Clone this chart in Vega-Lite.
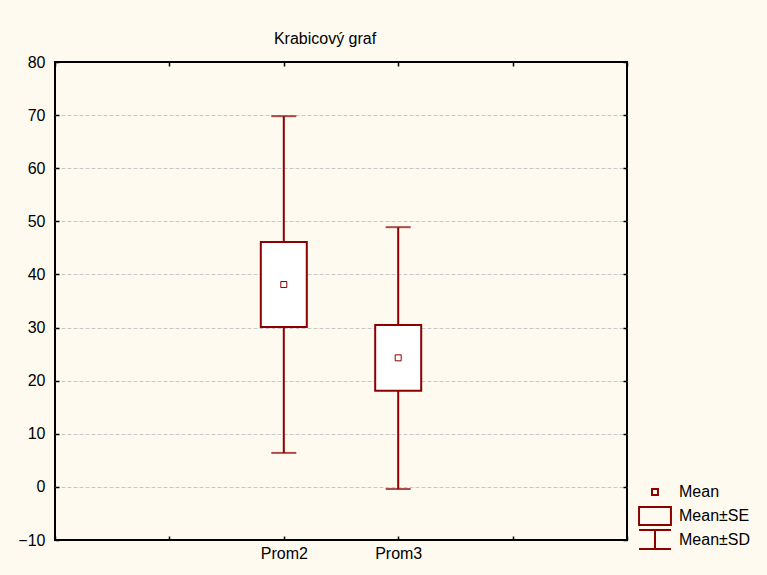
{
  "$schema": "https://vega.github.io/schema/vega-lite/v6.json",
  "autosize": {"type": "none"},
  "width": 572,
  "height": 478,
  "padding": {"left": 55, "top": 62, "right": 140, "bottom": 35},
  "background": "#FFFAF0",
  "config": {
    "font": "Liberation Sans",
    "view": {"fill": "#FFFFFF", "stroke": "#000000", "strokeWidth": 2},
    "axis": {"labelFont": "Liberation Sans", "labelFontSize": 16, "labelColor": "#000000", "tickColor": "#000000", "tickWidth": 1.5, "domain": false, "title": null},
    "legend": {"labelFont": "Liberation Sans", "labelFontSize": 16, "labelColor": "#000000", "title": null, "orient": "none", "padding": 0, "symbolSize": 484, "symbolOpacity": 1, "symbolStrokeColor": "#8B0000", "symbolFillColor": "transparent", "symbolStrokeWidth": 2, "labelOffset": 12}
  },
  "title": {"text": "Krabicový graf", "font": "Liberation Sans", "fontSize": 16, "fontWeight": "normal", "color": "#000000", "anchor": "middle", "frame": "group", "dx": -16, "offset": -6, "baseline": "alphabetic"},
  "datasets": {
    "stats": [
      {"var": "Prom2", "mean": 38.1, "seLo": 30.1, "seHi": 46.1, "sdLo": 6.4, "sdHi": 69.8},
      {"var": "Prom3", "mean": 24.3, "seLo": 18.1, "seHi": 30.5, "sdLo": -0.4, "sdHi": 48.9}
    ],
    "legendMean": [{"itemA": "Mean"}],
    "legendSE": [{"itemB": "Mean±SE"}],
    "legendSD": [{"itemC": "Mean±SD"}]
  },
  "layer": [
    {
      "data": {"name": "stats"},
      "mark": {"type": "rule", "color": "#8B0000", "strokeWidth": 2},
      "encoding": {
        "x": {"field": "var", "type": "nominal", "scale": {"type": "point", "domain": ["_1", "_2", "Prom2", "Prom3", "_4", "_5"], "padding": 0},
          "axis": {"orient": "bottom", "labelExpr": "datum.label == 'Prom2' || datum.label == 'Prom3' ? datum.label : ''", "tickSize": -4, "labelPadding": 9, "labelAngle": 0, "grid": false}},
        "y": {"field": "sdLo", "type": "quantitative", "scale": {"domain": [-10, 80], "nice": false, "zero": false},
          "axis": {"orient": "left", "values": [-10, 0, 10, 20, 30, 40, 50, 60, 70, 80], "tickSize": -4, "labelPadding": 14, "grid": true,
            "gridColor": {"condition": {"test": "datum.value == 80 || datum.value == -10", "value": "transparent"}, "value": "#C8C8C8"},
            "gridDash": [4, 2], "gridWidth": 1}},
        "y2": {"field": "sdHi"}
      }
    },
    {
      "data": {"name": "stats"},
      "mark": {"type": "tick", "color": "#8B0000", "thickness": 2, "size": 25, "orient": "horizontal"},
      "encoding": {
        "x": {"field": "var", "type": "nominal", "axis": {"orient": "top", "labels": false, "tickSize": -4, "grid": false}},
        "y": {"field": "sdHi", "type": "quantitative", "axis": {"orient": "right", "labels": false, "values": [-10, 0, 10, 20, 30, 40, 50, 60, 70, 80], "tickSize": -4, "grid": false}}
      }
    },
    {
      "data": {"name": "stats"},
      "mark": {"type": "tick", "color": "#8B0000", "thickness": 2, "size": 25, "orient": "horizontal"},
      "encoding": {
        "x": {"field": "var", "type": "nominal", "axis": null},
        "y": {"field": "sdLo", "type": "quantitative", "axis": null}
      }
    },
    {
      "data": {"name": "stats"},
      "mark": {"type": "bar", "fill": "#FFFFFF", "stroke": "#8B0000", "strokeWidth": 2, "size": 46},
      "encoding": {
        "x": {"field": "var", "type": "nominal", "axis": null},
        "y": {"field": "seLo", "type": "quantitative", "axis": null},
        "y2": {"field": "seHi"}
      }
    },
    {
      "data": {"name": "stats"},
      "mark": {"type": "point", "shape": "square", "filled": false, "color": "#8B0000", "strokeWidth": 1, "size": 36, "opacity": 1},
      "encoding": {
        "x": {"field": "var", "type": "nominal", "axis": null},
        "y": {"field": "mean", "type": "quantitative", "axis": null}
      }
    },
    {
      "data": {"name": "legendMean"},
      "mark": {"type": "point", "filled": false, "color": "#8B0000", "opacity": 0, "strokeWidth": 2},
      "encoding": {
        "shape": {"field": "itemA", "type": "nominal",
          "scale": {"domain": ["Mean"], "range": ["M-0.27,-0.27H0.27V0.27H-0.27Z"]},
          "legend": {"legendX": 588, "legendY": 418}}
      }
    },
    {
      "data": {"name": "legendSE"},
      "mark": {"type": "point", "filled": false, "color": "#8B0000", "opacity": 0, "strokeWidth": 2},
      "encoding": {
        "fill": {"field": "itemB", "type": "nominal",
          "scale": {"domain": ["Mean±SE"], "range": ["transparent"]},
          "legend": {"legendX": 588, "legendY": 442, "symbolType": "M-1.45,-0.82H1.45V0.82H-1.45Z"}}
      }
    },
    {
      "data": {"name": "legendSD"},
      "mark": {"type": "point", "filled": false, "color": "#8B0000", "opacity": 0, "strokeWidth": 2},
      "encoding": {
        "stroke": {"field": "itemC", "type": "nominal",
          "scale": {"domain": ["Mean±SD"], "range": ["#8B0000"]},
          "legend": {"legendX": 588, "legendY": 465.5, "symbolType": "M-1.45,-0.86H1.45M0,-0.86V0.86M-1.45,0.86H1.45"}}
      }
    }
  ],
  "resolve": {"axis": {"x": "independent", "y": "independent"}}
}
